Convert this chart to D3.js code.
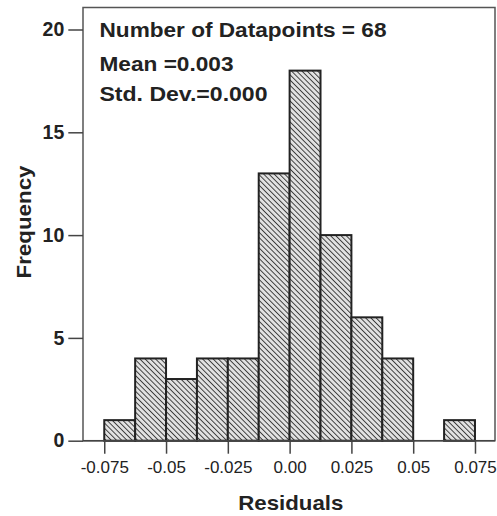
<!DOCTYPE html>
<html><head><meta charset="utf-8">
<script src="https://cdn.jsdelivr.net/npm/d3@7"></script>
<style>body{margin:0;background:#fff;} svg{display:block;font-family:"Liberation Sans",Arial,sans-serif;}</style>
</head><body>
<svg id="c" width="497" height="516"></svg>
<script>
const binStarts = [-0.075,-0.0625,-0.05,-0.0375,-0.025,-0.0125,0,0.0125,0.025,0.0375,0.05,0.0625];
const binWidth = 0.0125;
const counts = [1,4,3,4,4,13,18,10,6,4,0,1];
const xTicks = [-0.075,-0.05,-0.025,0,0.025,0.05,0.075];
const xTickLabels = ["-0.075","-0.05","-0.025","0.00","0.025","0.05","0.075"];
const yTicks = [0,5,10,15,20];
const statsLines = ["Number of Datapoints = 68","Mean =0.003","Std. Dev.=0.000"];

const svg = d3.select("#c");
const L=83, R=495, T=7.5, B=440.7;
const x = d3.scaleLinear().domain([-0.0836,0.0831]).range([L,R]);
const y = d3.scaleLinear().domain([0,21.07]).range([B,T]);

const defs = svg.append("defs");
const P=3.7;
const pat = defs.append("pattern").attr("id","hatch").attr("patternUnits","userSpaceOnUse")
  .attr("width",P).attr("height",P).attr("patternTransform","rotate(-45)");
pat.append("rect").attr("width",P).attr("height",P).attr("fill","#e2e2e2");
pat.append("line").attr("x1",0).attr("y1",0).attr("x2",0).attr("y2",P)
  .attr("stroke","#3a3a3a").attr("stroke-width",1.9);

// frame
svg.append("rect").attr("x",L).attr("y",T).attr("width",R-L).attr("height",B-T)
  .attr("fill","#fff").attr("stroke","#555").attr("stroke-width",1.5);

// bars
svg.selectAll("rect.bar").data(binStarts.map((s,i)=>({s,c:counts[i]})).filter(d=>d.c>0))
  .enter().append("rect").attr("class","bar")
  .attr("x",d=>x(d.s)).attr("width",d=>x(d.s+binWidth)-x(d.s))
  .attr("y",d=>y(d.c)).attr("height",d=>y(0)-y(d.c))
  .attr("fill","url(#hatch)").attr("stroke","#222").attr("stroke-width",2);

// baseline
svg.append("line").attr("x1",L).attr("x2",R).attr("y1",B).attr("y2",B).attr("stroke","#444").attr("stroke-width",1.5);

// x axis
const xa = svg.append("g").attr("transform",`translate(0,${B})`)
  .call(d3.axisBottom(x).tickValues(xTicks).tickSize(13).tickFormat((d,i)=>xTickLabels[i]));
xa.select(".domain").remove();
xa.selectAll(".tick line").attr("stroke","#444").attr("stroke-width",1.5);
xa.selectAll(".tick text").attr("font-size",17).attr("fill","#222").attr("y",32).attr("dy",null)
  .attr("font-family","Liberation Sans, Arial, sans-serif");

// y axis
const ya = svg.append("g").attr("transform",`translate(${L},0)`)
  .call(d3.axisLeft(y).tickValues(yTicks).tickSize(14.7).tickPadding(4));
ya.select(".domain").remove();
ya.selectAll(".tick line").attr("stroke","#444").attr("stroke-width",1.5);
ya.selectAll(".tick text").attr("font-size",19.5).attr("font-weight","bold").attr("fill","#222")
  .attr("font-family","Liberation Sans, Arial, sans-serif");

// axis titles
svg.append("text").attr("x",290.8).attr("y",510).attr("text-anchor","middle")
  .attr("font-size",21).attr("font-weight","bold").attr("fill","#222")
  .attr("textLength",105).attr("lengthAdjust","spacingAndGlyphs").text("Residuals");
svg.append("text").attr("transform","translate(31,222) rotate(-90)").attr("text-anchor","middle")
  .attr("font-size",21).attr("font-weight","bold").attr("fill","#222")
  .attr("textLength",113).attr("lengthAdjust","spacingAndGlyphs").text("Frequency");

// stats
const baselines=[37,70.5,101];
const statWidths=[287,134,168];
statsLines.forEach((t,i)=>{
  svg.append("text").attr("x",99.5).attr("y",baselines[i]).attr("font-size",19.5)
    .attr("font-weight","bold").attr("fill","#222")
    .attr("textLength",statWidths[i]).attr("lengthAdjust","spacingAndGlyphs").text(t);
});
</script>
</body></html>
